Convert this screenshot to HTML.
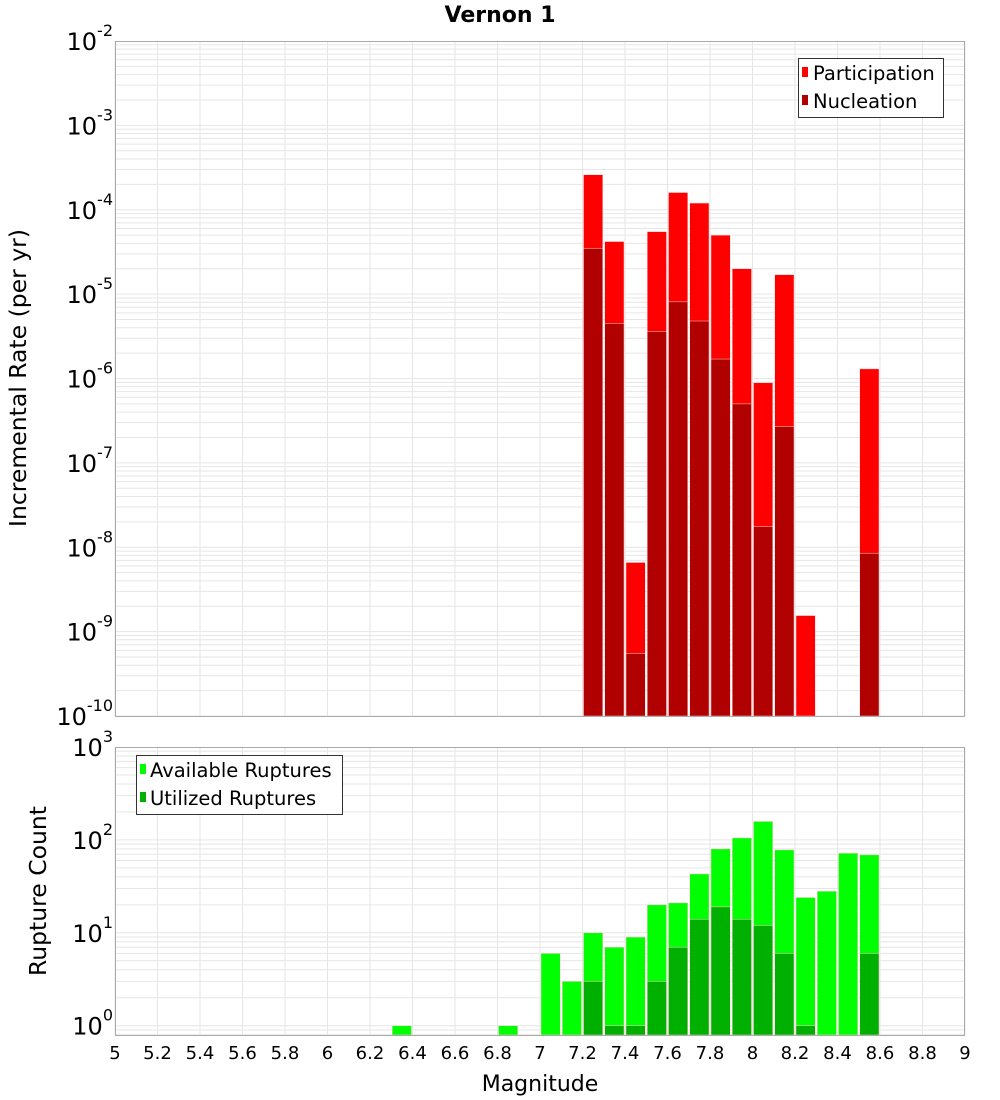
<!DOCTYPE html>
<html><head><meta charset="utf-8"><style>
html,body{margin:0;padding:0;background:#fff;}
svg{display:block;font-family:"DejaVu Sans","Liberation Sans",sans-serif;}
</style></head><body>
<svg id="chart" width="1000" height="1100" viewBox="0 0 1000 1100" xmlns="http://www.w3.org/2000/svg">
<text x="500" y="22" text-anchor="middle" font-size="22" font-weight="bold">Vernon 1</text>
<g id="grid"></g>
<g id="bars"></g>
<rect x="115.5" y="41.5" width="849" height="675" fill="none" stroke="#aaa"/>
<rect x="115.5" y="747.5" width="849" height="288" fill="none" stroke="#aaa"/>
<g id="ticks"></g>
<text transform="translate(26,378) rotate(-90)" text-anchor="middle" font-size="23.5">Incremental Rate (per yr)</text>
<text transform="translate(46,891) rotate(-90)" text-anchor="middle" font-size="23.5">Rupture Count</text>
<text x="540" y="1091" text-anchor="middle" font-size="22">Magnitude</text>
<g>
<rect x="798.5" y="58.5" width="145" height="59" fill="#fff" stroke="#333"/>
<rect x="802" y="67" width="6" height="10" fill="#ff0000"/>
<text x="813" y="80" font-size="19.5">Participation</text>
<rect x="802" y="95" width="6" height="10" fill="#b00000"/>
<text x="813" y="108" font-size="19.5">Nucleation</text>
</g>
<g>
<rect x="136.5" y="755.5" width="206" height="59" fill="#fff" stroke="#333"/>
<rect x="140" y="764" width="6" height="10" fill="#00ff00"/>
<text x="150" y="777" font-size="19.5">Available Ruptures</text>
<rect x="140" y="792" width="6" height="10" fill="#00b000"/>
<text x="150" y="805" font-size="19.5">Utilized Ruptures</text>
</g>
</svg>
<script>
const rateMags = [7.25,7.35,7.45,7.55,7.65,7.75,7.85,7.95,8.05,8.15,8.25,8.55];
const participation = [2.6e-4,4.2e-5,6.6e-9,5.5e-5,1.6e-4,1.2e-4,5.0e-5,2.0e-5,8.9e-7,1.7e-5,1.55e-9,1.3e-6];
const nucleation = [3.5e-5,4.5e-6,5.5e-10,3.6e-6,8.1e-6,4.8e-6,1.7e-6,5.0e-7,1.75e-8,2.7e-7,0,8.5e-9];
const countMags = [6.35,6.85,7.05,7.15,7.25,7.35,7.45,7.55,7.65,7.75,7.85,7.95,8.05,8.15,8.25,8.35,8.45,8.55];
const available = [1,1,6,3,10,7,9,20,21,43,80,105,158,78,24,28,72,69];
const utilized = [0,0,0,0,3,1,1,3,7,14,19,14,12,6,1,0,0,6];
const xTicks = [5,5.2,5.4,5.6,5.8,6,6.2,6.4,6.6,6.8,7,7.2,7.4,7.6,7.8,8,8.2,8.4,8.6,8.8,9];
const topExps = [-2,-3,-4,-5,-6,-7,-8,-9,-10];
const botExps = [3,2,1,0];

const NS='http://www.w3.org/2000/svg';
const X0=115, X1=965;
const xs = m => X0 + (m-5)/4*(X1-X0);
const T0=41, T1=716;
const yTop = v => T0 + (-2 - Math.log10(v))*(T1-T0)/8;
const B0=747, B1=1035, BLo=-0.1, BHi=3;
const yBot = v => B0 + (BHi - Math.log10(v))*(B1-B0)/(BHi-BLo);
function mk(tag, attrs, parent){const e=document.createElementNS(NS,tag);for(const k in attrs)e.setAttribute(k,attrs[k]);parent.appendChild(e);return e;}
const grid=document.getElementById('grid'), bars=document.getElementById('bars'), ticks=document.getElementById('ticks');

xTicks.forEach(t=>{
  const x=xs(t);
  let l=mk('line',{x1:x,x2:x,y1:T0,y2:T1,stroke:'#e6e6e6'},grid);
  
  
  l=mk('line',{x1:x,x2:x,y1:B0,y2:B1,stroke:'#e6e6e6'},grid);
  
  
  const tx=mk('text',{x:x,y:1059,'text-anchor':'middle','font-size':'18'},ticks);
  tx.textContent=String(t);
  
  
});
for(let e=-10;e<-2;e++){for(let k=1;k<10;k++){const y=yTop(k*Math.pow(10,e));
  const l=mk('line',{x1:X0,x2:X1,y1:y,y2:y,stroke:'#e6e6e6'},grid);
  
  }}
for(let e=-1;e<3;e++){for(let k=1;k<10;k++){const v=k*Math.pow(10,e);const y=yBot(v);if(y>B1||y<B0)continue;
  const l=mk('line',{x1:X0,x2:X1,y1:y,y2:y,stroke:'#e6e6e6'},grid);
  
  }}
function expLabel(y,e,name){
  const t=mk('text',{x:113,y:y+9,'text-anchor':'end','font-size':'24'},ticks);
  const a=mk('tspan',{},t);a.textContent='10';
  const b=mk('tspan',{dy:-14,'font-size':'16'},t);b.textContent=String(e);
  
  
}
topExps.forEach(e=>expLabel(yTop(Math.pow(10,e)),e,'top-y-tick-label'));
botExps.forEach(e=>expLabel(yBot(Math.pow(10,e)),e,'bottom-y-tick-label'));

function bar(m,y,base,fill,name){
  const x=xs(m-0.05)+1, w=xs(m+0.05)-xs(m-0.05)-2;
  const r=mk('rect',{x:x,y:y,width:w,height:Math.max(0,base-y),fill:fill,stroke:'#ffd0d0','stroke-width':'0.5'},bars);
  
  
}
rateMags.forEach((m,i)=>{
  if(participation[i]>0) bar(m,yTop(participation[i]),T1,'#ff0000','participation-bar');
  if(nucleation[i]>0) bar(m,yTop(nucleation[i]),T1,'#b00000','nucleation-bar');
});
countMags.forEach((m,i)=>{
  if(available[i]>0) bar(m,yBot(available[i]),B1,'#00ff00','available-bar');
  if(utilized[i]>0) bar(m,yBot(utilized[i]),B1,'#00b000','utilized-bar');
});
</script>
</body></html>
